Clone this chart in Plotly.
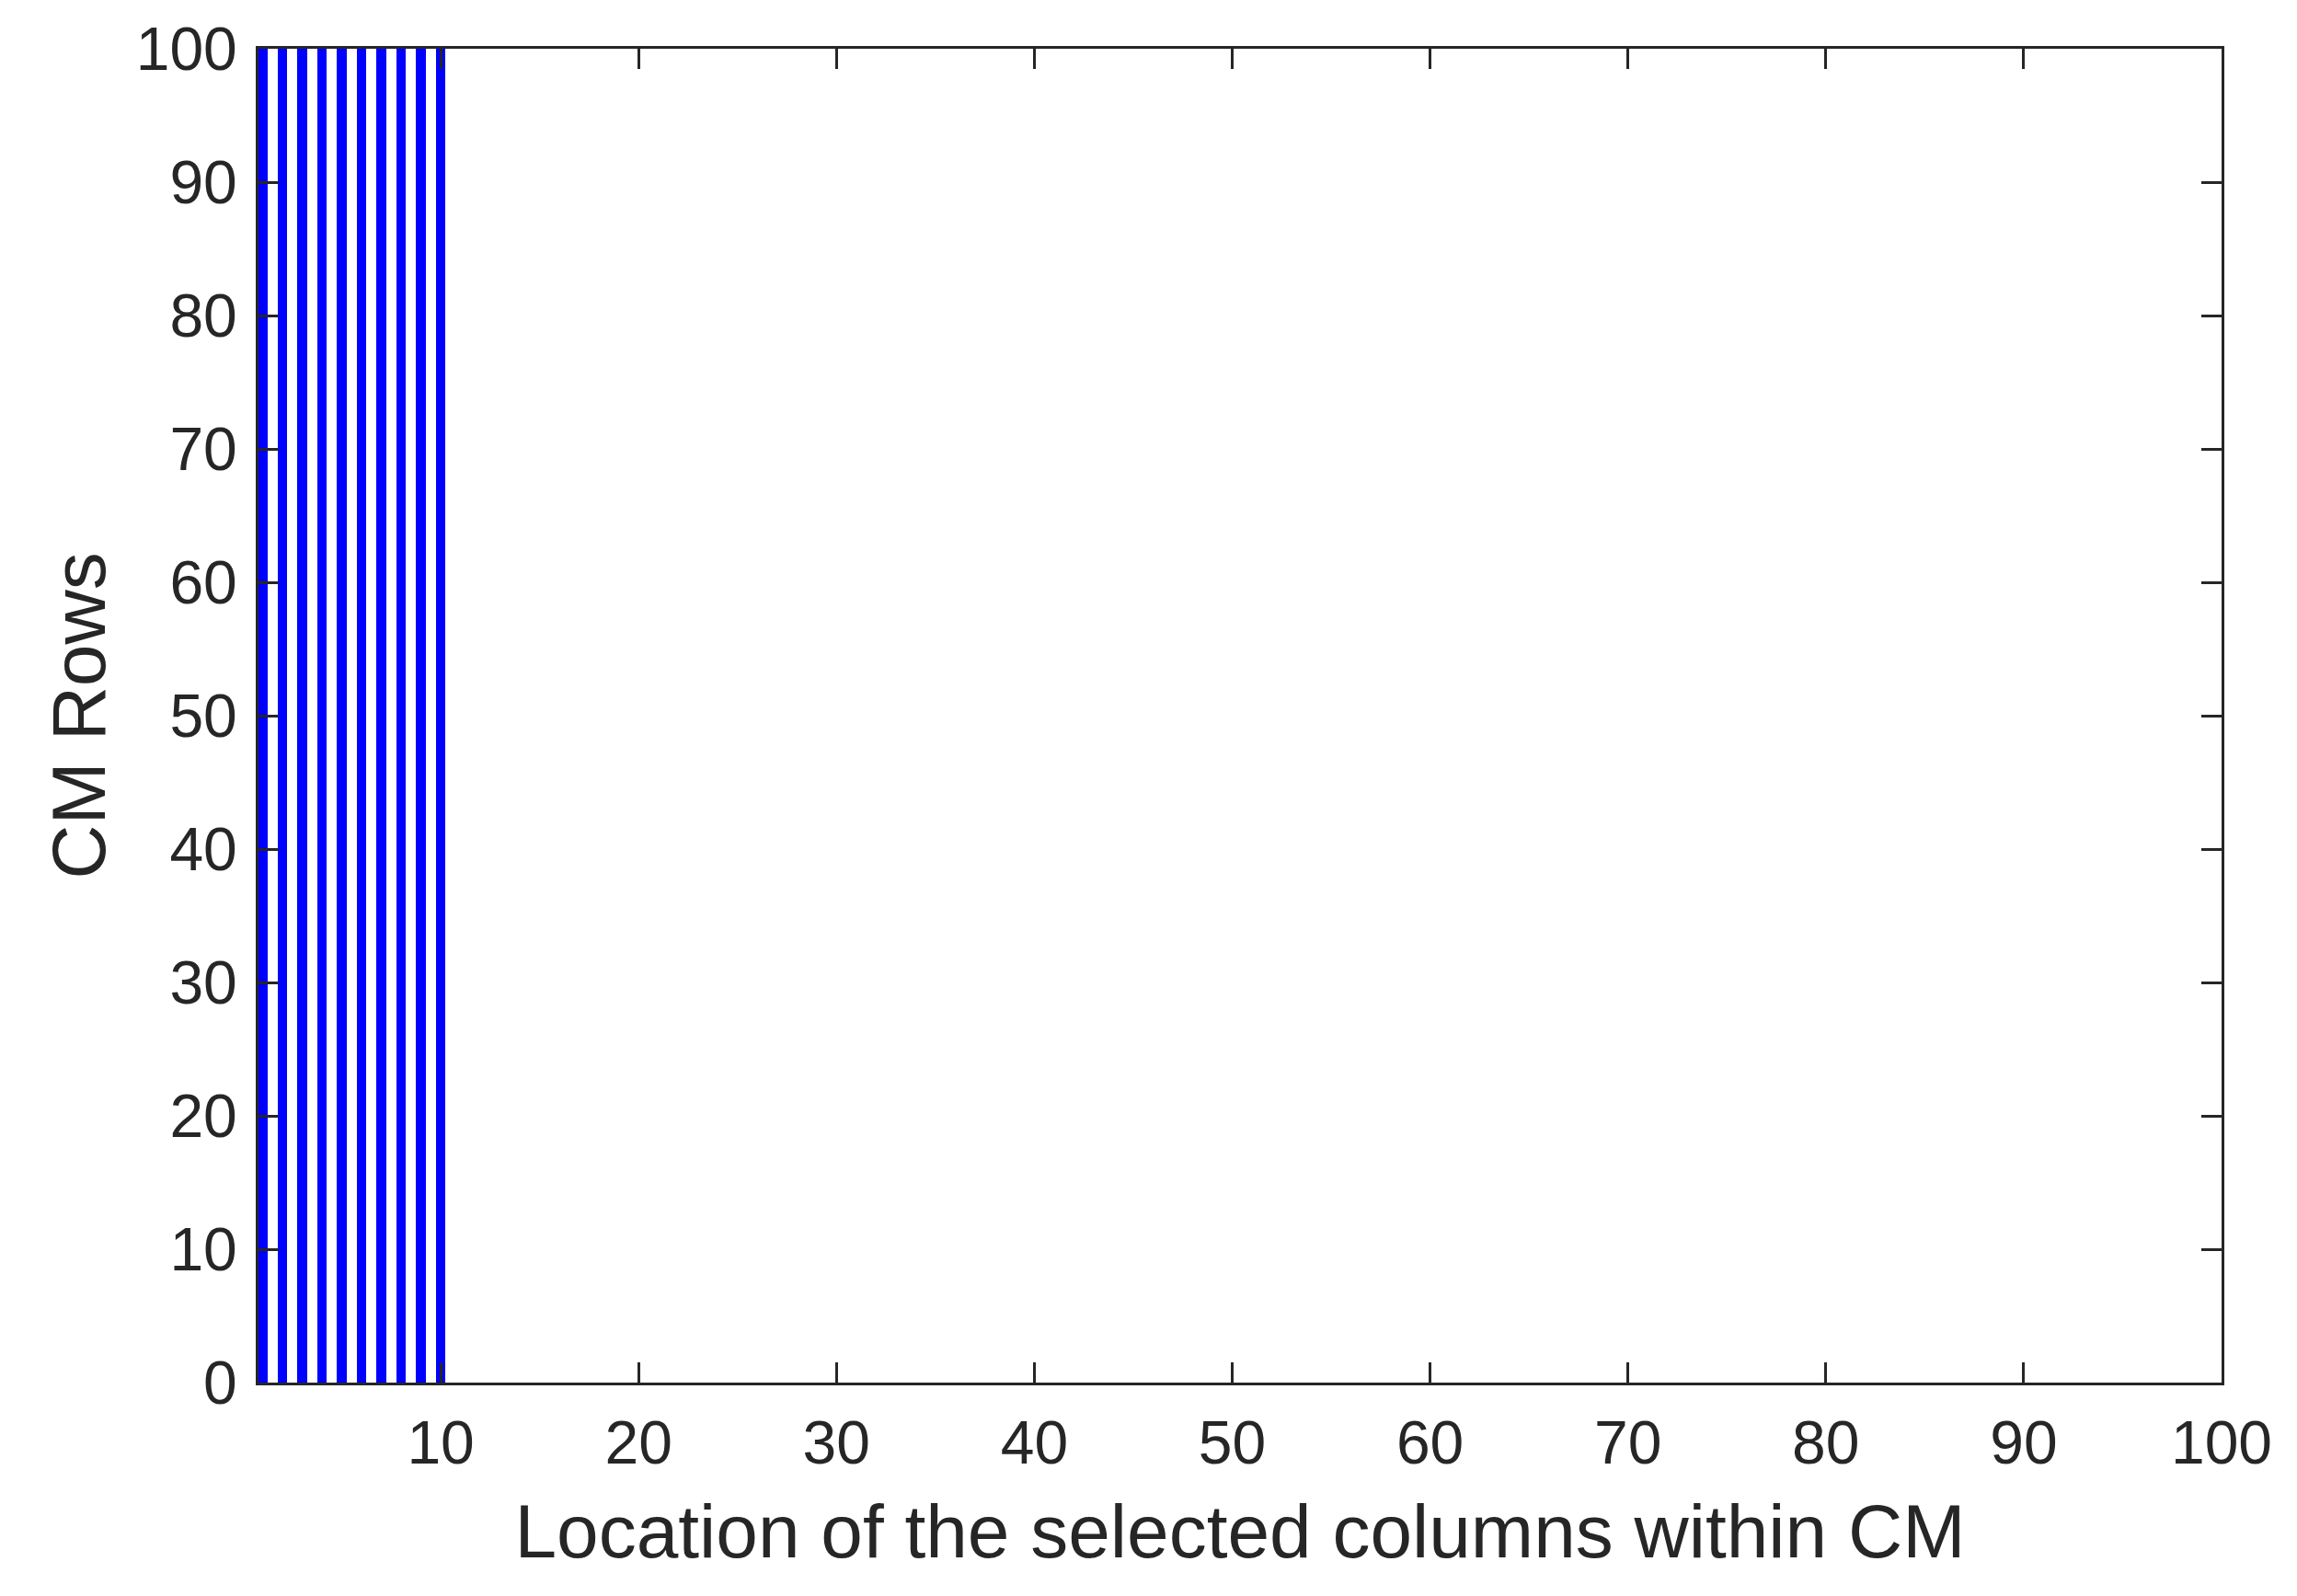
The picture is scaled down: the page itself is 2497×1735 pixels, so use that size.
import plotly.graph_objects as go

# Data: selected column locations within CM and the rows they span
selected_columns = [1, 2, 3, 4, 5, 6, 7, 8, 9, 10]
row_extent = [100, 100, 100, 100, 100, 100, 100, 100, 100, 100]

x_ticks = [10, 20, 30, 40, 50, 60, 70, 80, 90, 100]
y_ticks = [0, 10, 20, 30, 40, 50, 60, 70, 80, 90, 100]

axis_col = "#262626"
font_family = "Liberation Sans, Arial, sans-serif"

fig = go.Figure()
fig.add_trace(go.Bar(
    x=selected_columns,
    y=row_extent,
    width=0.48,
    marker=dict(color="#0000FF", line=dict(width=0)),
    showlegend=False,
))

fig.update_layout(
    width=2497,
    height=1735,
    paper_bgcolor="white",
    plot_bgcolor="white",
    margin=dict(l=273, r=90, t=45, b=240),
    font=dict(family=font_family, color=axis_col),
    bargap=0,
)

fig.update_xaxes(
    range=[0.79, 100],
    tickvals=x_ticks,
    ticktext=[str(v) for v in x_ticks],
    ticks="inside",
    ticklen=22,
    tickwidth=3,
    tickcolor=axis_col,
    showline=True,
    linecolor=axis_col,
    linewidth=3,
    mirror="ticks",
    showgrid=False,
    zeroline=False,
    tickfont=dict(size=66, color=axis_col),
    ticklabelstandoff=6,
    title=dict(text="Location of the selected columns within CM",
               font=dict(size=82, color=axis_col), standoff=32),
    automargin=False,
)

fig.update_yaxes(
    range=[0, 100],
    tickvals=y_ticks,
    ticktext=[str(v) for v in y_ticks],
    ticks="inside",
    ticklen=22,
    tickwidth=3,
    tickcolor=axis_col,
    showline=True,
    linecolor=axis_col,
    linewidth=3,
    mirror="ticks",
    showgrid=False,
    zeroline=False,
    tickfont=dict(size=66, color=axis_col),
    ticklabelstandoff=7,
    title=dict(text="CM Rows", font=dict(size=82, color=axis_col), standoff=6),
    automargin=False,
)

fig.write_html("out.html")
